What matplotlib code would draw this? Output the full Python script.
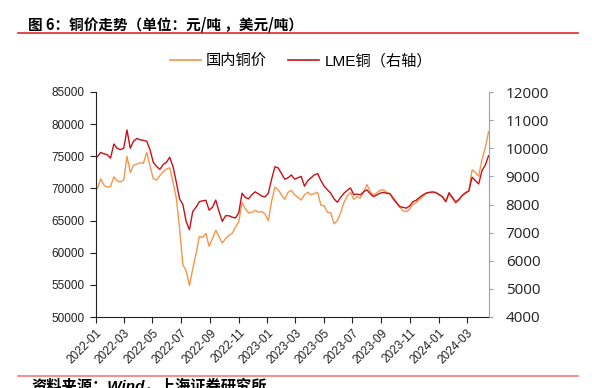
import pandas as pd
import matplotlib
matplotlib.use("Agg")
import matplotlib.pyplot as plt
from matplotlib.lines import Line2D

plt.rcParams['font.family'] = ['Liberation Sans', 'Noto Sans CJK SC']

# weekly samples
dates = pd.date_range('2022-01-04', periods=120, freq='7D')

# 国内铜价, 元/吨 (left axis)
cn_price = [
    70000, 71500, 70500, 70200, 70300, 71800, 71200, 71000, 71300, 75000,
    72500, 73600, 73800, 74000, 73900, 75600, 73500, 71500, 71300, 72000,
    72600, 73000, 73200, 71000, 68500, 63800, 58100, 57200, 54900, 57500,
    59800, 62500, 62400, 63000, 61000, 62200, 63500, 62500, 61500, 62200,
    62700, 63000, 64000, 64800, 67800, 66800, 66200, 66300, 66600, 66300,
    66400, 66000, 65000, 68000, 70200, 69800, 69000, 68300, 69400, 69700,
    69000, 68600, 68200, 69000, 69400, 69000, 69200, 69400, 67400, 67300,
    66300, 66200, 64500, 65000, 66200, 67800, 68800, 69400, 68300, 68700,
    68500, 69500, 70600, 69500, 69000, 69300, 69700, 69800, 69400, 69200,
    68600, 67900, 67100, 66500, 66400, 66800, 67500, 67800, 68300, 68700,
    69300, 69400, 69300, 69400, 69000, 68700, 68000, 69200, 68500, 67700,
    68200, 68900, 69200, 69600, 72900, 72500, 71900, 74500, 76300, 78800,
]

# LME铜, 美元/吨 (right axis)
lme_price = [
    9700, 9850, 9800, 9770, 9650, 10150, 10000, 9950, 10000, 10650,
    10000, 10250, 10350, 10300, 10280, 10250, 9950, 9500, 9350, 9250,
    9420, 9500, 9680, 9350, 8800, 8200, 8000, 7400, 7100, 7750,
    7900, 8100, 8130, 8150, 7800, 7900, 8160, 7750, 7400, 7600,
    7600, 7550, 7520, 7700, 8400, 8250, 8200, 8350, 8450, 8380,
    8300, 8270, 8400, 8900, 9340, 9300, 9100, 8900, 8950, 9050,
    8900, 8950, 9000, 8650, 8850, 8950, 9050, 9100, 8850, 8650,
    8520, 8400, 8200, 8080, 8250, 8400, 8500, 8590, 8350, 8370,
    8340, 8450, 8520, 8380, 8280, 8340, 8400, 8430, 8400, 8380,
    8200, 8050, 7920, 7900, 7870, 7950, 8100, 8150, 8250, 8340,
    8400, 8430, 8450, 8420, 8350, 8270, 8100, 8420, 8250, 8090,
    8180, 8320, 8420, 8480, 8970, 8850, 8730, 9200, 9400, 9730,
]

left_ticks = list(range(50000, 85001, 5000))
right_ticks = list(range(4000, 12001, 1000))
month_ticks = pd.date_range('2022-01-01', '2024-03-01', freq='2MS')

W, H = 592, 388
fig = plt.figure(figsize=(W / 100, H / 100), dpi=100)
ax = fig.add_axes([96 / W, 1 - 317 / H, (489 - 96) / W, (317 - 92) / H])

ax.plot(dates, cn_price, color='#f5964a', lw=1.0)
ax2 = ax.twinx()
ax2.plot(dates, lme_price, color='#c8101a', lw=1.0)

ax.set_xlim(pd.Timestamp('2022-01-01'), pd.Timestamp('2024-04-17'))
ax.set_ylim(50000, 85000)
ax.set_yticks(left_ticks)
ax2.set_ylim(4000, 12000)
ax2.set_yticks(right_ticks)

ax.set_xticks(month_ticks)
ax.set_xticklabels([d.strftime('%Y-%m') for d in month_ticks], rotation=45,
                   ha='right', va='top', rotation_mode='anchor', fontsize=8.5)

for s in ['top', 'right']:
    ax.spines[s].set_visible(False)
for s in ['top', 'left', 'bottom']:
    ax2.spines[s].set_visible(False)
ax.spines['left'].set_color('#222222')
ax.spines['bottom'].set_color('#222222')
ax2.spines['right'].set_color('#a0a0a0')

ax.tick_params(axis='y', direction='out', length=4, width=0.8, pad=4,
               labelsize=8.5, colors='#222222')
ax.tick_params(axis='x', direction='out', length=4, width=0.8, pad=3,
               colors='#222222')
ax2.tick_params(axis='y', direction='out', length=3, width=0.8, pad=9,
                labelsize=11, color='#a0a0a0', labelcolor='#222222')
for lbl in ax2.get_yticklabels():
    lbl.set_family('Open Sans')

# legend
handles = [Line2D([], [], color='#f5964a', lw=1.2),
           Line2D([], [], color='#c8101a', lw=1.2)]
fig.legend(handles, ['国内铜价', 'LME铜（右轴）'], loc='center',
           bbox_to_anchor=(301 / W, 1 - 61 / H), ncol=2, frameon=False,
           fontsize=11, handlelength=2.0, handletextpad=0.35,
           columnspacing=1.4)

# title and rules
fig.text(28 / W, 1 - 24 / H, '图 6：铜价走势（单位：元/吨 ，美元/吨）',
         fontsize=10.5, fontweight='bold', ha='left', va='center',
         family=['Noto Sans CJK SC'])
fig.add_artist(Line2D([18 / W, 578 / W], [1 - 33.3 / H, 1 - 33.3 / H],
                      color='#e02a2a', lw=1.2))
fig.add_artist(Line2D([18 / W, 578 / W], [1 - 376 / H, 1 - 376 / H],
                      color='#f37a7a', lw=1.2))
fig.text(31 / W, 1 - 379 / H, '资料来源：Wind，上海证券研究所',
         fontsize=11, fontweight='bold', style='italic', ha='left', va='top')

fig.savefig('out.png', dpi=100)
